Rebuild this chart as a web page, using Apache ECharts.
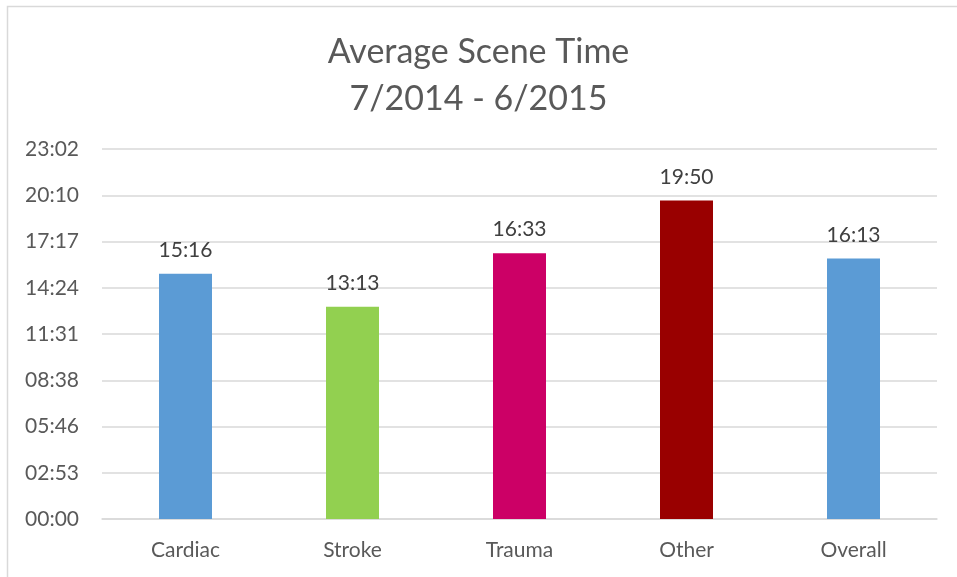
<!DOCTYPE html>
<html>
<head>
<meta charset="utf-8">
<script src="https://cdn.jsdelivr.net/npm/echarts@6/dist/echarts.min.js"></script>
<style>
html,body{margin:0;padding:0;background:#fff;}
#container{width:957px;height:577px;}
</style>
</head>
<body>
<div id="container"></div>
<script>
// categories and average scene times (seconds)
var categories = ['Cardiac', 'Stroke', 'Trauma', 'Other', 'Overall'];
var sceneSeconds = [916, 793, 993, 1190, 973];
var barColors = ['#5B9BD5', '#92D050', '#CC0066', '#990000', '#5B9BD5'];
// axis ticks every 0.002 day = 172.8 s
var tickStep = 172.8;
var axisMax = 1382.4;

function fmt(v){
    var s = Math.round(v);
    var m = Math.floor(s / 60);
    var r = s % 60;
    return (m < 10 ? '0' : '') + m + ':' + (r < 10 ? '0' : '') + r;
}

var myChart = echarts.init(document.getElementById('container'));
var font = 'Lato, "Open Sans", sans-serif';

var option = {
    backgroundColor: '#fff',
    animation: false,
    title: {
        text: 'Average Scene Time\n7/2014 - 6/2015',
        left: 'center',
        top: 24,
        textStyle: {
            color: '#595959',
            fontSize: 34,
            fontWeight: 'normal',
            fontFamily: font,
            lineHeight: 47
        }
    },
    graphic: [{
        type: 'rect',
        shape: {x: 7.5, y: 6.5, width: 970, height: 600},
        style: {fill: 'none', stroke: '#d9d9d9', lineWidth: 1.5},
        silent: true
    }],
    grid: {
        left: 102,
        right: 20,
        top: 149,
        bottom: 58
    },
    xAxis: {
        type: 'category',
        data: categories,
        axisTick: {show: false},
        axisLine: {lineStyle: {color: '#d9d9d9', width: 1.5}},
        axisLabel: {
            color: '#595959',
            fontSize: 21,
            fontFamily: font,
            margin: 21
        }
    },
    yAxis: {
        type: 'value',
        min: 0,
        max: axisMax,
        interval: tickStep,
        axisLine: {show: false},
        axisTick: {show: false},
        splitLine: {lineStyle: {color: '#d9d9d9', width: 1.5}},
        axisLabel: {
            color: '#595959',
            fontSize: 21,
            fontFamily: font,
            margin: 23,
            formatter: fmt
        }
    },
    series: [{
        type: 'bar',
        barWidth: 53,
        data: sceneSeconds.map(function(v, i){
            return {value: v, itemStyle: {color: barColors[i]}};
        }),
        label: {
            show: true,
            position: 'top',
            distance: 13,
            color: '#404040',
            fontSize: 21,
            fontFamily: font,
            formatter: function(p){ return fmt(p.value); }
        }
    }]
};
myChart.setOption(option);
</script>
</body>
</html>
